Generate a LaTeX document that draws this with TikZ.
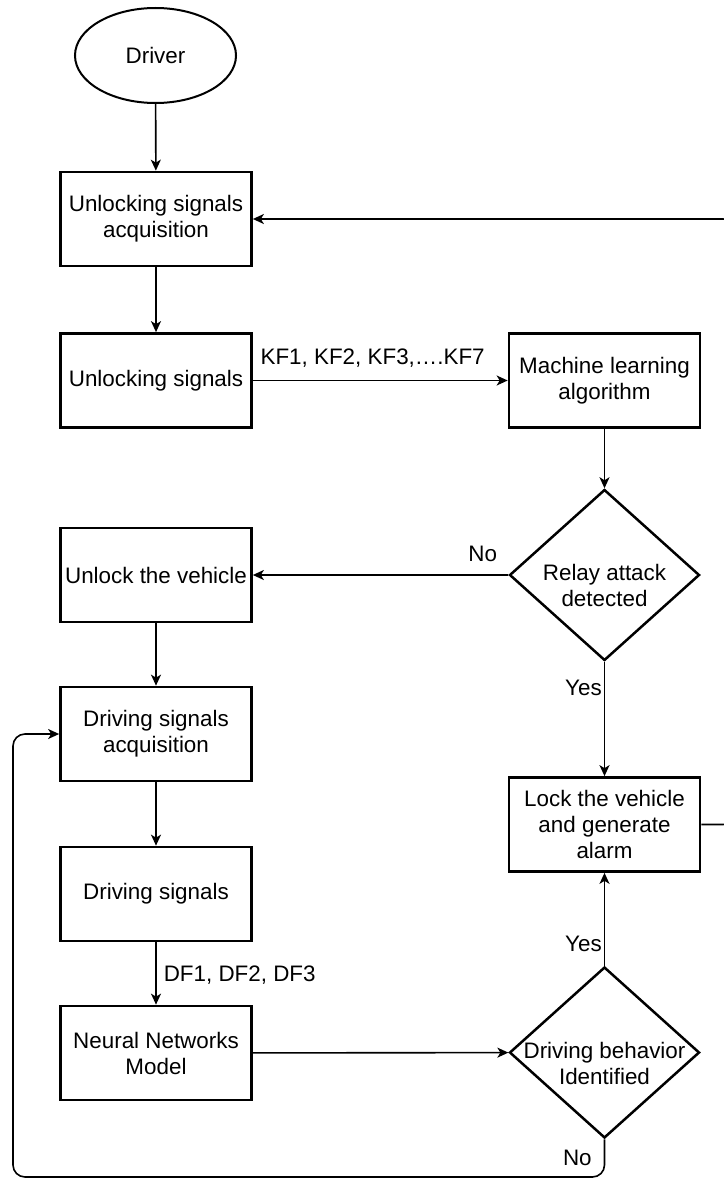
\documentclass[tikz,border=0pt]{standalone}
\usepackage{fontspec}
\setmainfont{Liberation Sans}
\usetikzlibrary{shapes.geometric,arrows.meta}

\begin{document}
\begin{tikzpicture}[x=1pt,y=-1pt,line width=1.6pt,>={Stealth[length=11pt,width=10pt,inset=3pt]},
    font=\fontsize{22.4}{26}\selectfont]
    \tikzstyle{block}=[rectangle,draw=black,line width=2.7pt,minimum width=191pt,minimum height=94pt,inner sep=0pt,align=center]
    \tikzstyle{decision}=[diamond,draw=black,line width=2.5pt,minimum width=190pt,minimum height=171pt,aspect=1.1,inner xsep=-8pt,inner ysep=-22pt,align=center]
    \tikzstyle{edgetext}=[inner sep=2pt]
    \useasboundingbox (0,0) rectangle (723,1180);

    \node[ellipse,draw=black,line width=2pt,minimum width=161pt,minimum height=95pt] (driver) at (155.5,55.5) {Driver};

    \foreach \name/\x/\y/\txt in {usa/156/219/{Unlocking signals\\acquisition}, us/156/380.5/{Unlocking signals},
            unlock/156/575/{Unlock the vehicle}, dsa/156/734/{Driving signals\\acquisition},
            ds/156/894/{Driving signals}, nn/156/1053/{Neural Networks\\Model},
            ml/604.5/380.5/{Machine learning\\algorithm}, lock/604.5/824.5/{Lock the vehicle\\and generate\\alarm}}
        \node[block] (\name) at (\x,\y) {\txt};

    % text of the decisions sits a little low in the diamond
    \foreach \name/\y/\txt in {rad/575/{Relay attack\\detected}, dbi/1052.5/{Driving behavior\\Identified}}
        \node[decision] (\name) at (604.5,\y) {\rule{0pt}{38pt}\txt};

    \foreach \from/\to in {driver/usa, usa/us, ml/rad, unlock/dsa, dsa/ds, nn/dbi}
        \draw[->] (\from) -- (\to);

    \draw[->] (us) -- node[edgetext,above=10pt,pos=0.47] {KF1, KF2, KF3,….KF7} (ml);
    \draw[->] (rad) -- node[edgetext,above=10pt,pos=0.1] {No} (unlock);
    \draw[->] (rad) -- node[edgetext,left=0pt,pos=0.23] {Yes} (lock);
    \draw[->] (dbi) -- node[edgetext,left=0pt,pos=0.23] {Yes} (lock);
    \draw[->] (ds) -- node[edgetext,right=5pt,pos=0.52] {DF1, DF2, DF3} (nn);

    % loop back from the decision to the acquisition blocks
    \coordinate (loop) at (13,1177);
    \draw[->,rounded corners=12pt] (dbi.south) |- node[edgetext,left=10pt,pos=0.25] {No} (loop) |- (dsa.west);
    \draw[->,rounded corners=8pt] (lock.east) -- ++(30,0) |- (usa.east);
\end{tikzpicture}
\end{document}
